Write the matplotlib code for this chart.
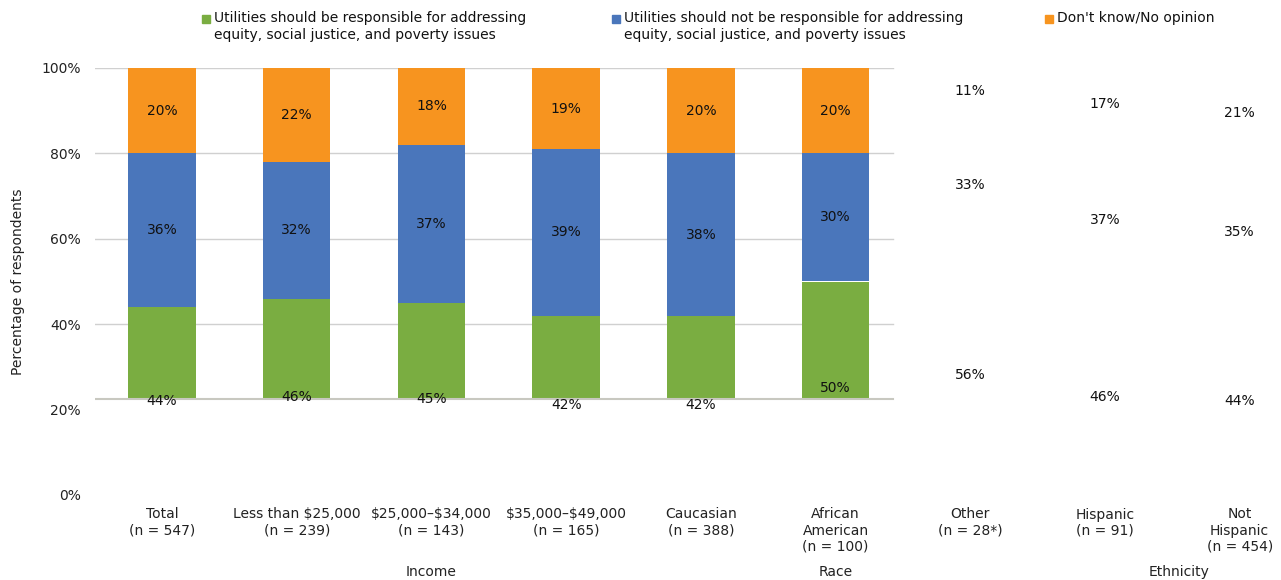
import matplotlib
matplotlib.use('Agg')
import matplotlib.pyplot as plt
from matplotlib.patches import Rectangle
import numpy as np

# Survey shares (percent) per group
categories = ['Total\n(n = 547)', 'Less than \\$25,000\n(n = 239)', '\\$25,000\u2013\\$34,000\n(n = 143)',
              '\\$35,000\u2013\\$49,000\n(n = 165)', 'Caucasian\n(n = 388)', 'African\nAmerican\n(n = 100)',
              'Other\n(n = 28*)', 'Hispanic\n(n = 91)', 'Not\nHispanic\n(n = 454)']
responsible = [44, 46, 45, 42, 42, 50, 56, 46, 44]
not_responsible = [36, 32, 37, 39, 38, 30, 33, 37, 35]
dont_know = [20, 22, 18, 19, 20, 20, 11, 17, 21]
groups = ['Income', 'Race', 'Ethnicity']
group_pos = [2.0, 5.0, 7.55]

series_names = ['Utilities should be responsible for addressing\nequity, social justice, and poverty issues',
                'Utilities should not be responsible for addressing\nequity, social justice, and poverty issues',
                "Don't know/No opinion"]
colors = ['#7AAD41', '#4A76BB', '#F7941F']

plt.rcParams['font.family'] = 'DejaVu Sans'
W, H = 1281, 580
fig = plt.figure(figsize=(W / 100, H / 100), dpi=100)

# axes extends past right edge so category spacing matches
x0, x1, y0, y1 = 94.7, 1307.0, 495.0, 68.0
ax = fig.add_axes([x0 / W, 1 - y0 / H, (x1 - x0) / W, (y0 - y1) / H])
ax.set_xlim(-0.5, 8.5)
ax.set_ylim(0, 100)
for s in ax.spines.values():
    s.set_visible(False)
ax.tick_params(length=0)
ax.set_yticks(np.arange(0, 101, 20))
ax.set_yticklabels([f'{v}%' for v in range(0, 101, 20)], fontsize=10, color='#222222')
ax.tick_params(axis='y', pad=10)
ax.set_xticks(range(len(categories)))
ax.set_xticklabels(categories, fontsize=10, color='#222222', linespacing=1.2)
ax.tick_params(axis='x', pad=9)
ax.set_ylabel('Percentage of respondents', fontsize=10, color='#222222')
ax.yaxis.set_label_coords((25 - x0) / (x1 - x0), 0.5)

# the visible plot region (bars get clipped to this)
clip_x0, clip_x1, clip_y0 = -0.5, 5.43, 22.5
for v in [40, 60, 80, 100]:
    ax.plot([clip_x0, clip_x1], [v, v], color='#d0d0d0', lw=1.0, zorder=1)
ax.plot([clip_x0, clip_x1], [clip_y0, clip_y0], color='#c8c8c0', lw=1.5, zorder=3)

clip = Rectangle((clip_x0, clip_y0), clip_x1 - clip_x0, 100 - clip_y0, transform=ax.transData)

x = np.arange(len(categories))
bottom = np.zeros(len(categories))
for vals, c in zip([responsible, not_responsible, dont_know], colors):
    bars = ax.bar(x, vals, bottom=bottom, width=0.5, color=c, zorder=2)
    for b in bars:
        b.set_clip_path(clip)
    for xi, v, bt in zip(x, vals, bottom):
        ax.text(xi, bt + v / 2, f'{v}%', ha='center', va='center', fontsize=10, color='#111111', zorder=4)
    bottom += np.array(vals)

for g, gp in zip(groups, group_pos):
    ax.text(gp, -18, g, ha='center', va='center', fontsize=10, color='#222222')

# legend
leg_x = [207, 617, 1050]
for name, c, lx in zip(series_names, colors, leg_x):
    fig.patches.append(Rectangle((lx / W - 0.004, 1 - 23 / H), 8 / W, 8 / H, transform=fig.transFigure,
                                 color=c, figure=fig))
    fig.text((lx + 7) / W, 1 - 11 / H, name, ha='left', va='top', fontsize=10, color='#111111',
             linespacing=1.3)

fig.savefig('out.png', dpi=100)
